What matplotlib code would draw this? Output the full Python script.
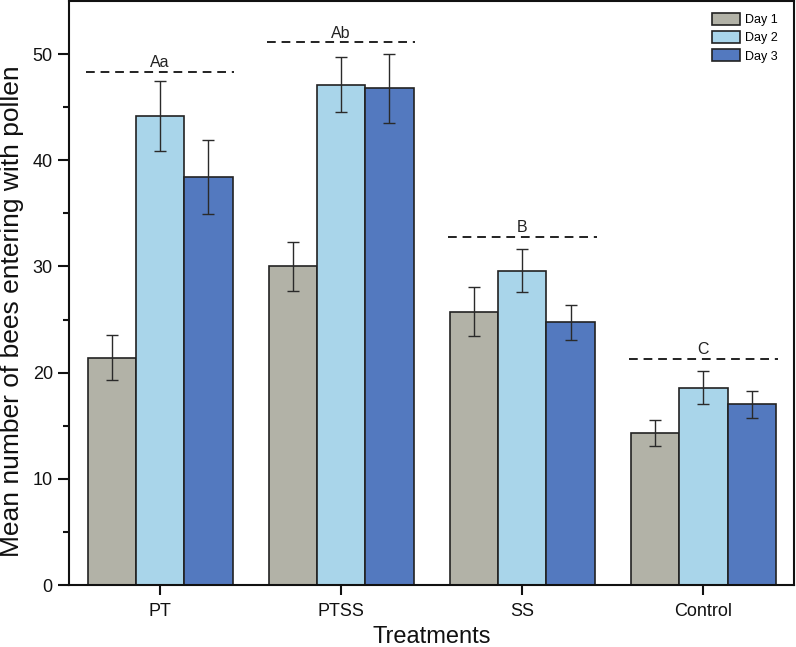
import numpy as np
import matplotlib
matplotlib.use("Agg")
import matplotlib.pyplot as plt

plt.rcParams['font.family'] = ['Liberation Sans', 'DejaVu Sans']

treatments = ["PT", "PTSS", "SS", "Control"]
days = ["Day 1", "Day 2", "Day 3"]

# mean values per day
day1 = [21.4, 30.0, 25.75, 14.3]
day2 = [44.2, 47.1, 29.6, 18.6]
day3 = [38.4, 46.8, 24.75, 17.0]
# standard errors
err1 = [2.1, 2.3, 2.3, 1.2]
err2 = [3.3, 2.6, 2.0, 1.55]
err3 = [3.5, 3.25, 1.65, 1.3]

# significance groups
letters = ["Aa", "Ab", "B", "C"]
letter_heights = [48.3, 51.1, 32.8, 21.3]

colors = ["#B2B2A7", "#A9D5EA", "#5379BF"]

fig = plt.figure(figsize=(7.96, 6.47), dpi=100)
ax = fig.add_axes([0.0873, 0.0958, 0.9102, 0.9027])

x = np.arange(len(treatments))
width = 0.8 / 3
means = [day1, day2, day3]
errs = [err1, err2, err3]
for i in range(3):
    pos = x + (i - 1) * width
    ax.bar(pos, means[i], width, color=colors[i], edgecolor="#222222",
           linewidth=1.2, label=days[i], zorder=2)
    ax.errorbar(pos, means[i], yerr=errs[i], fmt="none", ecolor="#2a2a2a",
                elinewidth=1.0, capsize=4.3, capthick=1.0, zorder=3)

# dashed lines with letters
for xi, h, lab in zip(x, letter_heights, letters):
    ax.plot([xi - 0.41, xi + 0.41], [h, h], color="#222222", linestyle=(0, (4.5, 3)),
            linewidth=1.4, zorder=3)
    ax.text(xi, h + 0.45, lab, ha="center", va="baseline", fontsize=11.5, color="#222222")

ax.set_xlim(-0.5, 3.5)
ax.set_ylim(0, 55)
ax.set_xticks(x)
ax.set_xticklabels(treatments)
ax.set_yticks([0, 10, 20, 30, 40, 50])
ax.set_yticks([5, 15, 25, 35, 45], minor=True)

for s in ax.spines.values():
    s.set_linewidth(1.5)
    s.set_color("#111111")
ax.tick_params(axis="y", which="major", direction="out", length=8, width=1.5,
               labelsize=13, pad=4, colors="#111111")
ax.tick_params(axis="y", which="minor", direction="out", length=4.3, width=1.5, colors="#111111")
ax.tick_params(axis="x", which="major", direction="out", length=7, width=1.5,
               labelsize=13, pad=6, colors="#111111")

ax.set_xlabel("Treatments", fontsize=17, color="#111111")
ax.xaxis.set_label_coords(0.5, -0.071)
fig.text(0.0157, 0.5185, "Mean number of bees entering with pollen", rotation=90,
         ha="center", va="center", fontsize=19, color="#111111")

leg = ax.legend(loc="upper right", bbox_to_anchor=(0.985, 0.988), borderaxespad=0,
                frameon=False, fontsize=9, handlelength=2.3, handleheight=1.1,
                handletextpad=0.4, labelspacing=0.4)

fig.savefig("out.png", dpi=100)
